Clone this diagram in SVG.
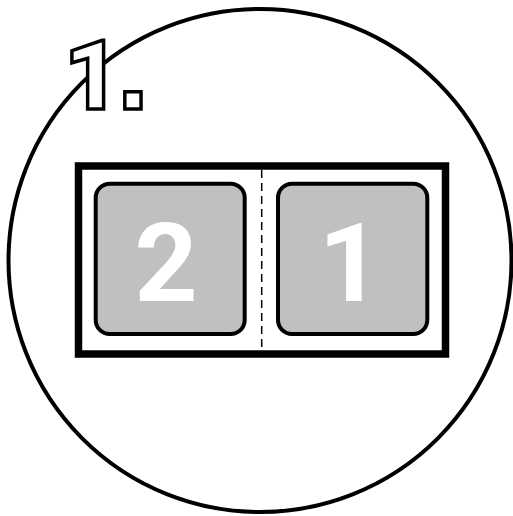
<svg xmlns="http://www.w3.org/2000/svg" width="513" height="516" viewBox="0 0 513 516">
<style>
.key{fill:#c0c0c0;stroke:#000;stroke-width:4}
.num{font-family:Roboto,"Liberation Sans",sans-serif;font-weight:bold;fill:#fff;text-anchor:middle}
.ttl{fill:#fff;stroke:#000;stroke-width:3.5;stroke-linejoin:miter}
</style>
<rect width="513" height="516" fill="#fff"/>
<circle cx="260" cy="260.5" r="251.5" fill="none" stroke="#000" stroke-width="4"/>
<g id="title">
<text class="ttl" y="108.5"><tspan x="92" text-anchor="middle" font-size="97" font-weight="900" font-family="Roboto, sans-serif">1</tspan><tspan x="133" text-anchor="middle" font-size="115" font-weight="bold" font-family="Liberation Sans, sans-serif">.</tspan></text>
</g>
<g id="frame">
<rect x="78.5" y="166" width="367" height="188" fill="none" stroke="#000" stroke-width="7.5"/>
<line x1="261.7" y1="170" x2="261.7" y2="350" stroke="#000" stroke-width="1.5" stroke-dasharray="8,5"/>
</g>
<g id="key2">
<rect class="key" x="95.7" y="183.7" width="149" height="150.3" rx="14"/>
<text class="num" x="166" y="301" style="font-size:110px">2</text>
</g>
<g id="key1">
<rect class="key" x="278" y="183.7" width="149.3" height="150.3" rx="14"/>
<text class="num" x="350" y="301" style="font-size:110px">1</text>
</g>
</svg>
